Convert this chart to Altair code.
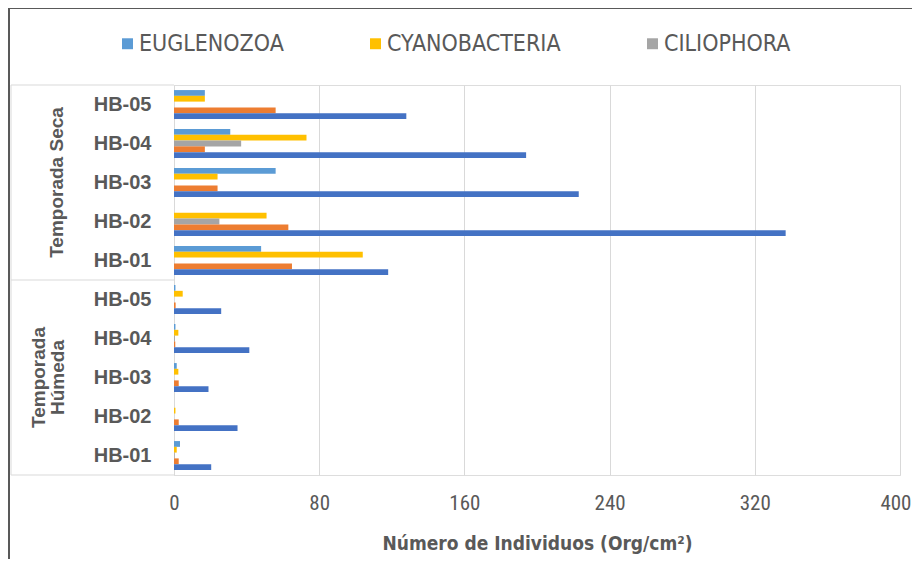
import altair as alt
import pandas as pd

sites = ["HB-05", "HB-04", "HB-03", "HB-02", "HB-01"]
seasons = ["Seca", "Húmeda"]
series = ["EUGLENOZOA", "CYANOBACTERIA", "CILIOPHORA", "SERIE 2", "SERIE 1"]
colors = ["#5B9BD5", "#FFC000", "#A5A5A5", "#ED7D31", "#4472C4"]

# values per series, order of sites HB-05..HB-01
seca = {
    "EUGLENOZOA":    [17, 31, 56, 0, 48],
    "CYANOBACTERIA": [17, 73, 24, 51, 104],
    "CILIOPHORA":    [0, 37, 0, 25, 0],
    "SERIE 2":       [56, 17, 24, 63, 65],
    "SERIE 1":       [128, 194, 223, 337, 118],
}
humeda = {
    "EUGLENOZOA":    [0.8, 0.8, 1.5, 0, 3.3],
    "CYANOBACTERIA": [4.8, 2.4, 2.4, 0.8, 1.5],
    "CILIOPHORA":    [0, 0.5, 0, 0, 0.4],
    "SERIE 2":       [0.9, 0.7, 2.6, 2.6, 2.6],
    "SERIE 1":       [26, 41.5, 19, 35, 20.5],
}

rows = []
for season, table in (("Seca", seca), ("Húmeda", humeda)):
    for s in series:
        for site, v in zip(sites, table[s]):
            rows.append({"key": f"{season}|{site}", "serie": s, "valor": v})
df = pd.DataFrame(rows)
ydomain = [f"{se}|{si}" for se in seasons for si in sites]

W, H = 726, 390
FONT = "DejaVu Sans Condensed"
FONT2 = "Roboto Condensed"
GRAY = "#595959"

yscale = alt.Scale(domain=ydomain, paddingInner=0.26, paddingOuter=0.13)

bars = alt.Chart(df).mark_bar().encode(
    x=alt.X("valor:Q", scale=alt.Scale(domain=[0, 400], nice=False),
            axis=alt.Axis(values=[0, 80, 160, 240, 320, 400], title="Número de Individuos (Org/cm²)",
                          grid=True, gridColor="#D9D9D9", domain=False, ticks=False, labelFlush=False,
                          labelAlign=alt.condition("datum.value == 400", alt.value("right"), alt.value("center")),
                          labelOffset=alt.condition("datum.value == 400", alt.value(11), alt.value(0)),
                          labelFont=FONT2, labelFontSize=21, labelColor=GRAY, labelPadding=17,
                          titleFont=FONT, titleFontSize=19, titleFontWeight="bold", titleColor=GRAY,
                          titlePadding=21)),
    y=alt.Y("key:N", scale=yscale, sort=ydomain,
            axis=alt.Axis(title=None, labelExpr="split(datum.label, '|')[1]", ticks=False,
                          domainColor="#D9D9D9", labelFont="Liberation Sans", labelFontWeight="bold",
                          labelFontSize=20, labelColor=GRAY, labelPadding=23, grid=False)),
    yOffset=alt.YOffset("serie:N", sort=series, scale=alt.Scale(domain=series, paddingInner=0, paddingOuter=0)),
    color=alt.Color("serie:N", scale=alt.Scale(domain=series, range=colors),
                    legend=alt.Legend(values=series[:3], title=None, orient="none", direction="horizontal",
                                      legendX=-58, legendY=-53, symbolType="square", symbolSize=120,
                                      symbolStrokeWidth=0, labelFont=FONT, labelFontSize=23,
                                      labelColor=GRAY, columnPadding=80, labelOffset=0, labelLimit=0)),
)

seasons_df = pd.DataFrame({"key": ["Seca|HB-03", "Húmeda|HB-03"],
                           "label": [["Temporada Seca"], ["Temporada", "Húmeda"]],
                           "xoff": [-117, -135]})
season_text = alt.Chart(seasons_df).mark_text(
    angle=270, align="center", baseline="middle", font="Liberation Sans", fontWeight="bold",
    fontSize=19, color=GRAY, lineHeight=19
).encode(
    y=alt.Y("key:N", scale=yscale, sort=ydomain),
    x=alt.X("xoff:Q", scale=None),
    text="label",
)

line_color = "#D9D9D9"
hl = pd.DataFrame({"y": [0, H / 2, H]})
hrules = alt.Chart(hl).mark_rule(color=line_color, strokeWidth=1).encode(
    x=alt.value(-163), x2=alt.value(0), y=alt.Y("y:Q", scale=None))
vrule = alt.Chart(pd.DataFrame({"a": [0]})).mark_rule(color=line_color, strokeWidth=1).encode(
    x=alt.value(-163), y=alt.value(0), y2=alt.value(H))

border_top = alt.Chart(pd.DataFrame({"a": [0]})).mark_rule(color=GRAY, strokeWidth=2).encode(
    x=alt.value(-165), x2=alt.value(W + 20), y=alt.value(-77))
border_left = alt.Chart(pd.DataFrame({"a": [0]})).mark_rule(color=GRAY, strokeWidth=2).encode(
    x=alt.value(-165), y=alt.value(-78), y2=alt.value(H + 90))

chart = alt.layer(bars, season_text, hrules, vrule, border_top, border_left).resolve_scale(
    y="shared"
).properties(
    width=W, height=H,
    autosize=alt.AutoSizeParams(type="none"),
    padding={"left": 166, "top": 77, "right": 12, "bottom": 84},
).configure_view(stroke=None).configure(background="white")

chart.save("out.html", embed_options={"renderer": "svg", "actions": False})
